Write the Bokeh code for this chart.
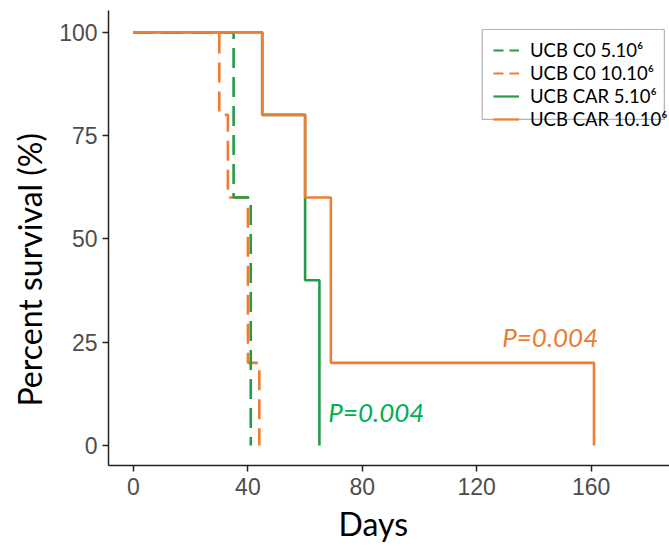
import math
from bokeh.plotting import figure
from bokeh.models import (Range1d, Legend, LegendItem, Label, BoxAnnotation,
                          FixedTicker, ColumnDataSource, Title)
from bokeh.embed import file_html
from bokeh.resources import INLINE

# ---- data (Kaplan-Meier steps) ----
days_c0_5 = [0, 35, 41]
surv_c0_5 = [100, 60, 0]
days_c0_10 = [0, 30, 33, 40, 44]
surv_c0_10 = [100, 80, 60, 20, 0]
days_car_5 = [0, 45, 60, 65]
surv_car_5 = [100, 80, 40, 0]
days_car_10 = [0, 45, 60, 69, 161]
surv_car_10 = [100, 80, 60, 20, 0]

labels = ["UCB C0 5.10\u2076", "UCB C0 10.10\u2076",
          "UCB CAR 5.10\u2076", "UCB CAR 10.10\u2076"]
x_ticks = [0, 40, 80, 120, 160]
y_ticks = [0, 25, 50, 75, 100]
p_text = "P=0.004"
x_title = "Days"
y_title = "Percent survival (%)"

GREEN = "#239b48"
ORANGE = "#ed7d31"
GREEN_TXT = "#00b050"

p = figure(width=669, height=547, output_backend="svg", toolbar_location=None,
           x_range=Range1d(-8.74, 187.4), y_range=Range1d(-4.84, 105.25),
           min_border_left=108, min_border_right=0, min_border_top=10,
           min_border_bottom=82)
p.outline_line_color = None
p.grid.visible = False
p.background_fill_color = "white"

for ax in (p.xaxis[0], p.yaxis[0]):
    ax.axis_line_color = "#222222"
    ax.axis_line_width = 1.5
    ax.major_tick_line_color = "#222222"
    ax.major_tick_line_width = 1.5
    ax.major_tick_out = 6
    ax.major_tick_in = 0
    ax.minor_tick_out = 0
    ax.minor_tick_in = 0
    ax.major_label_text_font = "Liberation Sans"
    ax.major_label_text_font_size = "23px"
    ax.major_label_text_color = "#4d4d4d"
p.xaxis[0].ticker = FixedTicker(ticks=x_ticks)
p.yaxis[0].ticker = FixedTicker(ticks=y_ticks)
p.xaxis[0].major_label_standoff = 6
p.yaxis[0].major_label_standoff = 5

p.add_layout(Title(text=x_title, align="left", offset=230, text_font="Lato",
                   text_font_size="32px", text_font_style="normal",
                   text_color="black", standoff=8), "below")
p.add_layout(Title(text=y_title, align="left", offset=59, text_font="Lato",
                   text_font_size="32px", text_font_style="normal",
                   text_color="black", standoff=15), "left")

DASH = "20 9"
r1 = p.step(days_c0_10, surv_c0_10, mode="after", line_color=ORANGE,
            line_width=2.6, line_dash=DASH)
r2 = p.step(days_c0_5, surv_c0_5, mode="after", line_color=GREEN,
            line_width=2.6, line_dash=DASH)
r3 = p.step(days_car_5, surv_car_5, mode="after", line_color=GREEN,
            line_width=2.6)
r4 = p.step(days_car_10, surv_car_10, mode="after", line_color=ORANGE,
            line_width=2.6)

# legend-only proxies (short dashes in legend); NaN data so nothing is drawn
nan = float("nan")
def proxy(color, dash):
    src = ColumnDataSource(dict(x=[nan], y=[nan]))
    return p.line(x="x", y="y", source=src, line_color=color, line_width=2.2,
                  line_dash=dash)
l1 = proxy(GREEN, "10 6")
l2 = proxy(ORANGE, "10 6")
l3 = proxy(GREEN, "solid")
l4 = proxy(ORANGE, "solid")

legend = Legend(items=[LegendItem(label=labels[0], renderers=[l1]),
                       LegendItem(label=labels[1], renderers=[l2]),
                       LegendItem(label=labels[2], renderers=[l3]),
                       LegendItem(label=labels[3], renderers=[l4])],
                location=(385, 335), padding=0, margin=0, spacing=1,
                label_height=20, glyph_height=20, glyph_width=26,
                label_standoff=11, border_line_color=None,
                background_fill_alpha=0,
                label_text_font="Lato", label_text_font_size="18.5px",
                label_text_color="black")
p.add_layout(legend)

p.add_layout(BoxAnnotation(left=121.9, right=185.6, top=100.65, bottom=78.9,
                           fill_alpha=0, line_color="black", line_width=1.2))

p.add_layout(Label(x=68.1, y=8.0, text=p_text, text_color=GREEN_TXT,
                   text_font="Lato", text_font_style="italic",
                   text_font_size="26px", text_baseline="middle"))
p.add_layout(Label(x=128.9, y=26.2, text=p_text, text_color=ORANGE,
                   text_font="Lato", text_font_style="italic",
                   text_font_size="26px", text_baseline="middle"))

open("out.html", "w").write(file_html(p, INLINE))
